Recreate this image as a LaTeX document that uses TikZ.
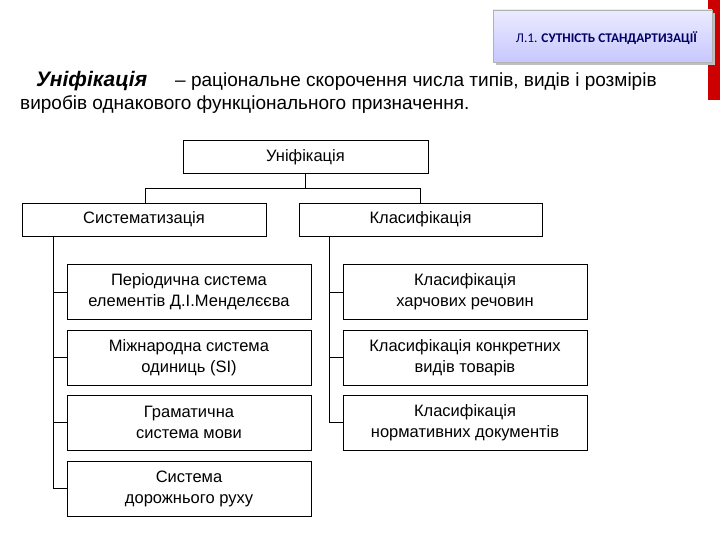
\documentclass[tikz,border=0pt]{standalone}
\usepackage{fontspec}
\setmainfont{Liberation Sans}
\newfontfamily\hdr{Carlito}
\begin{document}
\begin{tikzpicture}[x=1pt,y=-1pt,
  bx/.style={draw,line width=0.8pt,inner sep=0pt,align=center,font=\fontsize{16.5}{21}\selectfont},
  ln/.style={line width=0.8pt}]
\useasboundingbox (0,0) rectangle (720,540);
\fill[red!80!black] (708,0) rectangle (720,100);
\fill[gray!50] (496,13) rectangle (715,65);
\shade[top color=blue!8,bottom color=blue!22,draw=gray!60] (493,10) rectangle (712,62);
\node[font=\hdr\fontsize{13.3}{15}\selectfont,text=blue!40!black,anchor=east] (hd) at (701,38) {Л.1. \textbf{СУТНІСТЬ СТАНДАРТИЗАЦІЇ}};
\node[anchor=base west,font=\fontsize{21}{24}\selectfont\bfseries\itshape,inner sep=0pt] (t1) at (36,87) {Уніфікація};
\node[anchor=base west,font=\fontsize{19}{22}\selectfont,inner sep=0pt] (t2) at (175,87) {– раціональне скорочення числа типів, видів і розмірів};
\node[anchor=base west,font=\fontsize{19}{22}\selectfont,inner sep=0pt] (t3) at (20,110) {виробів однакового функціонального призначення.};
\node[bx,minimum width=245pt,minimum height=33pt] (u) at (305.5,157) {Уніфікація};
\node[bx,minimum width=244pt,minimum height=33pt] (s) at (144,219.5) {Систематизація};
\node[bx,minimum width=243pt,minimum height=33pt] (k) at (420.5,219.5) {Класифікація};
\foreach \n/\y/\t in {l1/292/{Періодична система\\елементів Д.І.Менделєєва},
  l2/357.5/{Міжнародна система\\одиниць (SI)},l3/422.5/{Граматична\\система мови},
  l4/488.5/{Система\\дорожнього руху}}
  \node[bx,minimum width=244pt,minimum height=55pt] (\n) at (189,\y) {\t};
\foreach \n/\y/\t in {r1/292/{Класифікація\\харчових речовин},
  r2/357.5/{Класифікація конкретних\\видів товарів},r3/422.5/{Класифікація\\нормативних документів}}
  \node[bx,minimum width=244pt,minimum height=55pt] (\n) at (465,\y) {\t};
\coordinate (bus) at (305.5,188);
\coordinate (bl) at (145,188);
\coordinate (br) at (420,188);
\draw[ln] (u.south) -- (bus);
\draw[ln] (bl) -- (br);
\draw[ln] (bl) -- (bl |- s.north);
\draw[ln] (br) -- (br |- k.north);
\draw[ln] (s.south -| 53,0) |- (l4.west);
\foreach \n in {l1,l2,l3} \draw[ln] (53,0 |- \n.west) -- (\n.west);
\draw[ln] (k.south -| 329,0) |- (r3.west);
\foreach \n in {r1,r2} \draw[ln] (329,0 |- \n.west) -- (\n.west);
\end{tikzpicture}
\end{document}
